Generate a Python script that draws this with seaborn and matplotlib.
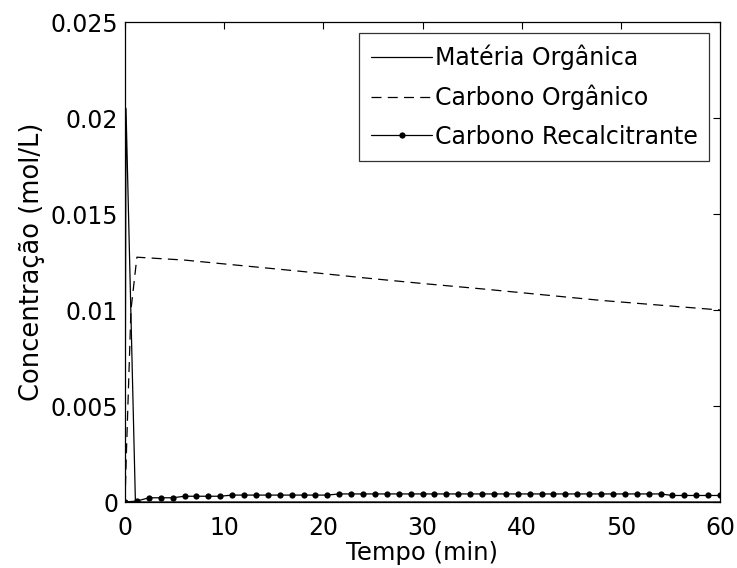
import numpy as np
import pandas as pd
import matplotlib
matplotlib.use("Agg")
import matplotlib.pyplot as plt
import seaborn as sns

# ---- data ----
t_mo = [0, 0.1, 1.05, 2.4, 60]
v_mo = [0, 0.0205, 0, 0, 0]

t_co = [0, 0.15, 0.6, 1.2, 6, 12, 18, 24, 30, 36, 42, 48, 54, 60]
v_co = [0, 0.0027, 0.0100, 0.01275, 0.0126, 0.0123, 0.0120, 0.01168,
        0.01138, 0.0111, 0.0108, 0.0105, 0.01025, 0.0100]

t_cr = [0, 1.2, 2.4, 3.6, 4.8, 6.0, 7.2, 8.4, 9.6, 10.8, 12.0, 13.2, 14.4,
        15.6, 16.8, 18.0, 19.2, 20.4, 21.6, 22.8, 24.0, 25.2, 26.4, 27.6,
        28.8, 30.0, 31.2, 32.4, 33.6, 34.8, 36.0, 37.2, 38.4, 39.6, 40.8,
        42.0, 43.2, 44.4, 45.6, 46.8, 48.0, 49.2, 50.4, 51.6, 52.8, 54.0,
        55.2, 56.4, 57.6, 58.8, 60.0]
v_cr = ([0, 0.00005] + [0.00022] * 3 + [0.00030] * 4 + [0.00036] * 9
        + [0.00042] * 28 + [0.00034] * 5)

labels = ["Matéria Orgânica", "Carbono Orgânico", "Carbono Recalcitrante"]
xticks = [0, 10, 20, 30, 40, 50, 60]
yticks = [0, 0.005, 0.01, 0.015, 0.02, 0.025]
yticklabels = ["0", "0.005", "0.01", "0.015", "0.02", "0.025"]

FS = 17

sns.set_theme(style="white")
plt.rcParams["font.family"] = ["DejaVu Sans"]
plt.rcParams["xtick.direction"] = "in"
plt.rcParams["ytick.direction"] = "in"

fig = plt.figure(figsize=(7.37, 5.68), dpi=100)
ax = fig.add_axes([125 / 737, 1 - 502 / 568, 595 / 737, 480 / 568])

df_mo = pd.DataFrame({"t": t_mo, "v": v_mo})
df_co = pd.DataFrame({"t": t_co, "v": v_co})
df_cr = pd.DataFrame({"t": t_cr, "v": v_cr})

sns.lineplot(data=df_mo, x="t", y="v", ax=ax, color="black", lw=0.9,
             label=labels[0], estimator=None, sort=False)
sns.lineplot(data=df_co, x="t", y="v", ax=ax, color="black", lw=0.9,
             linestyle=(0, (8, 5)), label=labels[1], estimator=None, sort=False)
sns.lineplot(data=df_cr, x="t", y="v", ax=ax, color="black", lw=0.9,
             marker="o", markersize=4.5, markeredgewidth=0,
             label=labels[2], estimator=None, sort=False)

ax.set_xlim(0, 60)
ax.set_ylim(0, 0.025)
ax.set_xticks(xticks)
ax.set_xticklabels([str(x) for x in xticks])
ax.set_yticks(yticks)
ax.set_yticklabels(yticklabels)
ax.tick_params(axis="both", which="both", direction="in", length=5, width=0.8,
               color="black", labelsize=FS, labelcolor="black",
               top=True, right=True, pad=5)
ax.tick_params(axis="x", pad=10)
for s in ax.spines.values():
    s.set_color("black")
    s.set_linewidth(0.9)
    s.set_visible(True)

ax.set_xlabel("Tempo (min)", fontsize=17.5, color="black", labelpad=1)
ax.set_ylabel("Concentração (mol/L)", fontsize=18.5, color="black", labelpad=4)

leg = ax.legend(loc="upper right", fontsize=FS, frameon=True, fancybox=False,
                handlelength=2.6, handletextpad=0.1, labelspacing=0.62,
                borderaxespad=0.45, borderpad=0.5)
leg.get_frame().set_edgecolor("black")
leg.get_frame().set_linewidth(0.9)
for txt in leg.get_texts():
    txt.set_color("black")

fig.savefig("out.png", dpi=100)
